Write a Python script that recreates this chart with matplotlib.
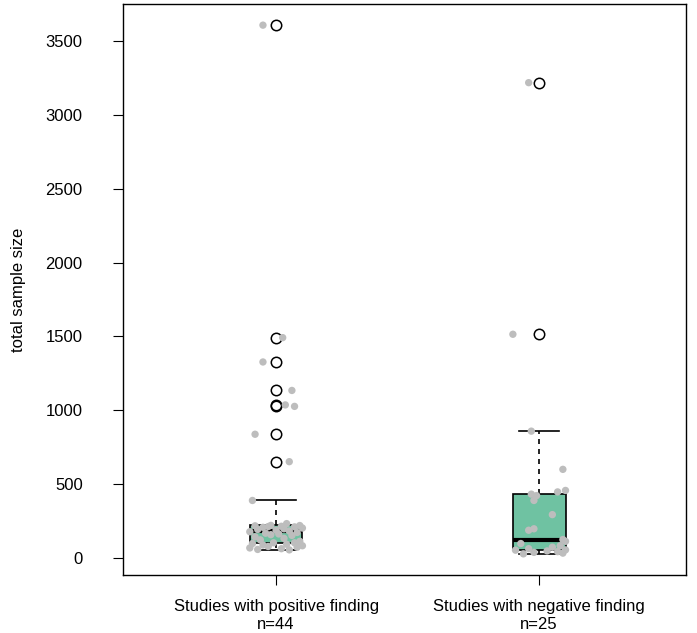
import matplotlib
matplotlib.use("Agg")
import matplotlib.pyplot as plt
import numpy as np

plt.rcParams['font.family'] = ['Liberation Sans', 'DejaVu Sans']

categories = ["Studies with positive finding\nn=44", "Studies with negative finding\nn=25"]

positive = [52, 55, 60, 65, 70, 75, 80, 85, 90, 95, 100, 100, 110, 120, 130, 140,
            150, 155, 160, 165, 170, 175, 180, 185, 190, 195, 200, 205, 208, 210,
            212, 215, 217, 218, 230, 387, 650, 836, 1025, 1035, 1133, 1326, 1491, 3610]
positive_jitter = [0.05, -0.07, 0.02, -0.10, 0.08, -0.03, 0.10, -0.05, 0.04, -0.09,
                   0.07, -0.01, 0.09, -0.06, 0.03, -0.08, 0.06, -0.02, 0.01, -0.04,
                   0.08, -0.10, 0.05, 0.00, -0.07, 0.03, 0.10, -0.05, 0.07, -0.03,
                   0.02, -0.08, 0.09, -0.02, 0.04, -0.09, 0.05, -0.08, 0.07, 0.035,
                   0.06, -0.05, 0.025, -0.05]

negative = [25, 30, 35, 40, 45, 50, 52, 60, 70, 80, 95, 110, 122, 185, 195, 291,
            387, 420, 430, 445, 455, 598, 857, 1514, 3220]
negative_jitter = [-0.06, 0.09, -0.02, 0.07, 0.03, -0.09, 0.10, -0.04, 0.05, 0.08,
                   -0.07, 0.10, 0.09, -0.04, -0.02, 0.05, -0.02, -0.01, -0.03, 0.07,
                   0.10, 0.09, -0.03, -0.10, -0.04]

groups = [positive, negative]
jitters = [positive_jitter, negative_jitter]
positions = [1, 2]

def fivenum(v):
    v = np.sort(np.asarray(v, dtype=float))
    n = len(v)
    n4 = np.floor((n + 3) / 2) / 2
    d = np.array([1, n4, (n + 1) / 2, n + 1 - n4, n])
    return 0.5 * (v[np.floor(d).astype(int) - 1] + v[np.ceil(d).astype(int) - 1])

stats = []
for g in groups:
    arr = np.asarray(g, dtype=float)
    mn, q1, med, q3, mx = fivenum(arr)
    iqr = q3 - q1
    lo_lim, hi_lim = q1 - 1.5 * iqr, q3 + 1.5 * iqr
    inside = arr[(arr >= lo_lim) & (arr <= hi_lim)]
    stats.append(dict(med=med, q1=q1, q3=q3, whislo=inside.min(), whishi=inside.max(),
                      fliers=arr[(arr < lo_lim) | (arr > hi_lim)]))

fig = plt.figure(figsize=(6.97, 6.33), dpi=100)
ax = fig.add_axes([123 / 697, 58 / 633, 563 / 697, 571 / 633])

ax.bxp(stats, positions=positions, widths=0.2, patch_artist=True,
       boxprops=dict(facecolor="#6fc2a2", edgecolor="black", linewidth=1.2),
       medianprops=dict(color="black", linewidth=3, solid_capstyle="butt"),
       whiskerprops=dict(color="black", linestyle=(0, (3, 3)), linewidth=1.2),
       capprops=dict(color="black", linewidth=1.2),
       capwidths=0.15,
       flierprops=dict(marker="o", markerfacecolor="none", markeredgecolor="black",
                       markersize=7.5, markeredgewidth=1.1),
       zorder=2)

for p, g, j in zip(positions, groups, jitters):
    ax.scatter(np.array(j) + p, g, s=28, color="#bdbdbd", edgecolors="none", zorder=3)

allv = np.concatenate([np.asarray(g, float) for g in groups])
rng = allv.max() - allv.min()
ax.set_ylim(allv.min() - 0.04 * rng, allv.max() + 0.04 * rng)
ax.set_xlim(0.418, 2.558)

ax.set_yticks(np.arange(0, 3501, 500))
ax.set_xticks(positions)
ax.set_xticklabels(categories, fontsize=12, linespacing=1.32)
ax.tick_params(axis="y", labelsize=12, length=7, pad=22)
ax.tick_params(axis="x", length=7, pad=10)
ax.set_ylabel("total sample size", fontsize=12, labelpad=14)
for s in ax.spines.values():
    s.set_linewidth(1.0)

fig.savefig("out.png", dpi=100)
